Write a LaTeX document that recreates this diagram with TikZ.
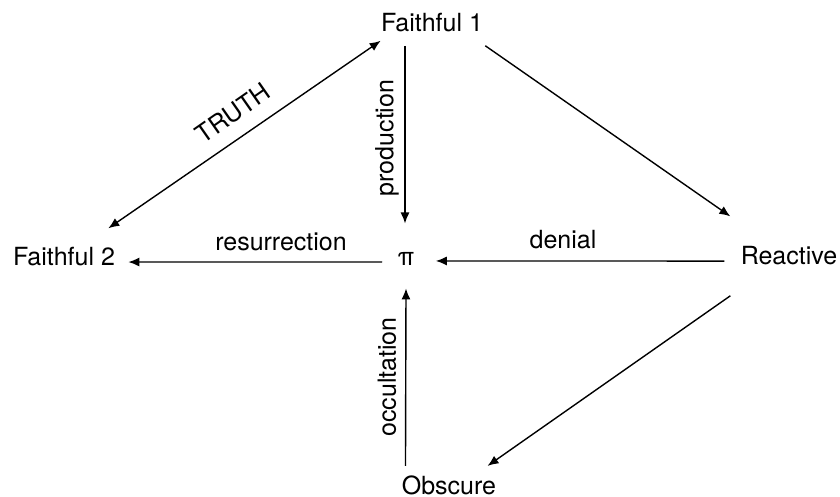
\documentclass[tikz,border=0pt]{standalone}
\usepackage{fontspec}
\setmainfont{TeX Gyre Heros}
\usetikzlibrary{arrows.meta}

\tikzset{
  state/.style={inner sep=0pt, anchor=base, font=\fontsize{12.5}{15}\selectfont},
  lbl/.style={inner sep=0pt, font=\fontsize{12.5}{15}\selectfont},
  arr/.style={-{Latex[length=5.5pt,width=4.5pt]}, line width=0.7pt},
  arrs/.style={{Latex[length=5.5pt,width=4.5pt]}-{Latex[length=5.5pt,width=4.5pt]}, line width=0.7pt}
}

\begin{document}
\begin{tikzpicture}[x=0.5pt, y=-0.5pt]
  \useasboundingbox (0,0) rectangle (840,497);
  % states
  \node[state] (f1) at (432,32)  {Faithful 1};
  \node[state] (f2) at (64,265)  {Faithful 2};
  \node[state] (pi) at (406,265) {π};
  \node[state] (re) at (789,264) {Reactive};
  \node[state] (ob) at (449,494) {Obscure};
  % labels
  \node[lbl, rotate=35] (truth) at (233,113) {TRUTH};
  \node[lbl, rotate=90] (prod) at (387,138) {production};
  \node[lbl, anchor=base] (resu) at (281,250) {resurrection};
  \node[lbl, anchor=base] (deni) at (563,249) {denial};
  \node[lbl, rotate=90] (occu) at (387,377) {occultation};

  \path[arrs]
  ([shift={(0,8)}]f1.south west) edge ([shift={(-7,-18)}]f2.north east);
  \path[arr]
  ([shift={(-27,13)}]f1.south) edge ([shift={(-1,-28)}]pi.north)
  ([shift={(2,13)}]f1.south east) edge ([shift={(-10,-29)}]re.north west)
  ([shift={(-15,3.5)}]pi.west) edge ([shift={(13,6)}]f2.east)
  ([shift={(-16,6)}]re.west) edge ([shift={(21,2.5)}]pi.east)
  ([shift={(4,-9)}]ob.north west) edge ([shift={(0,23)}]pi.south)
  ([shift={(-10,31)}]re.south west) edge ([shift={(-9,-9)}]ob.north east)
  ;
\end{tikzpicture}
\end{document}
